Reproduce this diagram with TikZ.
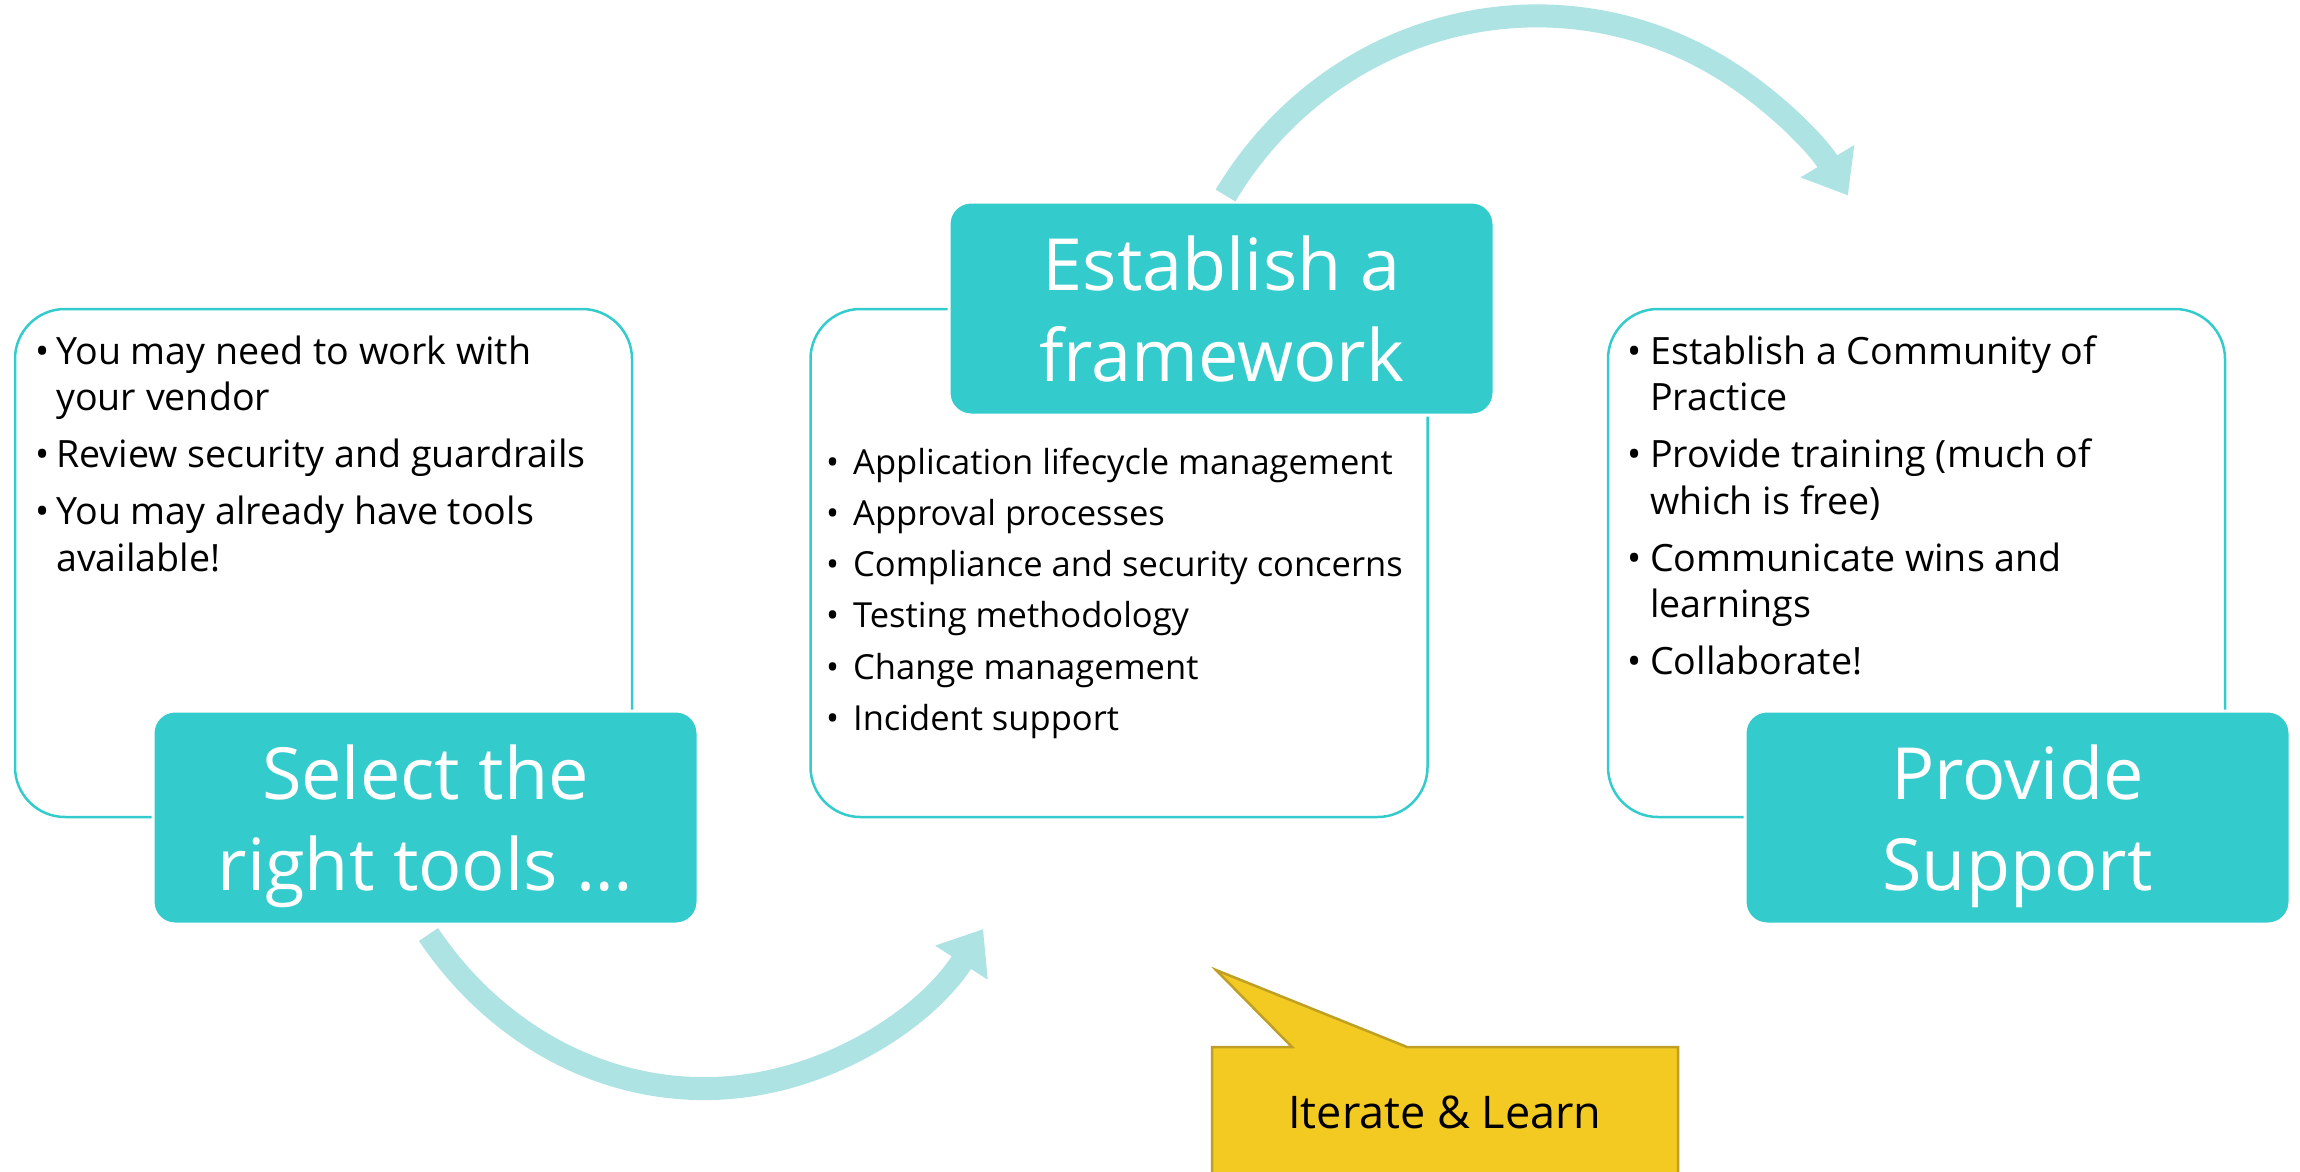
\documentclass[tikz,border=0pt]{standalone}
\usepackage{fontspec}
\setmainfont{Open Sans}
\usetikzlibrary{arrows.meta}
\usetikzlibrary{calc}

\definecolor{boxteal}{RGB}{52,203,204}
\definecolor{arrowteal}{RGB}{173,227,227}
\definecolor{calloutfill}{RGB}{242,202,34}
\definecolor{calloutline}{RGB}{191,160,36}

\tikzset{
    framebox/.style={draw=boxteal, line width=2.5pt, rounded corners=50pt,
        minimum width=617pt, minimum height=508pt, inner sep=0pt},
    stepbox/.style={fill=boxteal, draw=white, line width=3pt, rounded corners=22pt,
        minimum width=545pt, minimum height=213pt, inner sep=0pt, text depth=0pt,
        text=white, align=center, font=\fontsize{72}{91}\selectfont},
    bulletlist/.style={anchor=base west, inner sep=0pt, font=\fontsize{37.6}{46.5}\selectfont},
    cyclearrow/.style={draw=arrowteal, line width=23pt, -{Triangle[length=40pt,width=60pt]}},
    calloutshape/.style={fill=calloutfill, draw=calloutline, line width=2.5pt},
}

\begin{document}
\begin{tikzpicture}[x=1pt, y=-1pt]
    \useasboundingbox (0,0) rectangle (2300,1172);
    \clip (0,0) rectangle (2300,1172);

    % outline boxes
    \node[framebox] (toolsframe) at (323.5,563) {};
    \node[framebox] (frameworkframe) at (1119,563) {};
    \node[framebox] (supportframe) at (1916.5,563) {};

    % step titles
    \node[stepbox] (tools) at (425.5,817.5) {Select the\\right tools …};
    \node[stepbox] (framework) at (1221.5,308.5) {Establish a\\framework};
    \node[stepbox] (support) at (2017.5,817.5) {Provide\\Support};

    % cycle arrows
    \draw[cyclearrow] ([xshift=4pt,yshift=5pt]framework.north)
        arc[start angle=-148, end angle=-32, x radius=367, y radius=382];
    \draw[cyclearrow] ([xshift=3pt,yshift=-9pt]tools.south)
        arc[start angle=143, end angle=36, x radius=345, y radius=387];

    % bullet lists
    \node[bulletlist] (toolslist) at (35,364) {\begin{tabular}[t]{@{}p{21pt}@{}l@{}}
        • & You may need to work with\\
          & your vendor\\[10.5pt]
        • & Review security and guardrails\\[10.5pt]
        • & You may already have tools\\
          & available!
    \end{tabular}};

    \node[bulletlist, font=\fontsize{34.5}{51.3}\selectfont] (frameworklist) at (826,474) {\begin{tabular}[t]{@{}p{27pt}@{}l@{}}
        • & Application lifecycle management\\
        • & Approval processes\\
        • & Compliance and security concerns\\
        • & Testing methodology\\
        • & Change management\\
        • & Incident support
    \end{tabular}};

    \node[bulletlist] (supportlist) at (1627,364) {\begin{tabular}[t]{@{}p{23pt}@{}l@{}}
        • & Establish a Community of\\
          & Practice\\[10.5pt]
        • & Provide training (much of\\
          & which is free)\\[10.5pt]
        • & Communicate wins and\\
          & learnings\\[10.5pt]
        • & Collaborate!
    \end{tabular}};

    % callout
    \draw[calloutshape] (1212,1195) -- (1212,1047) -- (1292,1047) -- (1216,970)
        -- (1407,1047) -- (1678,1047) -- (1678,1195) -- cycle;
    \node[font=\fontsize{45}{54}\selectfont] (iterate) at (1445,1112) {Iterate \& Learn};
\end{tikzpicture}
\end{document}
